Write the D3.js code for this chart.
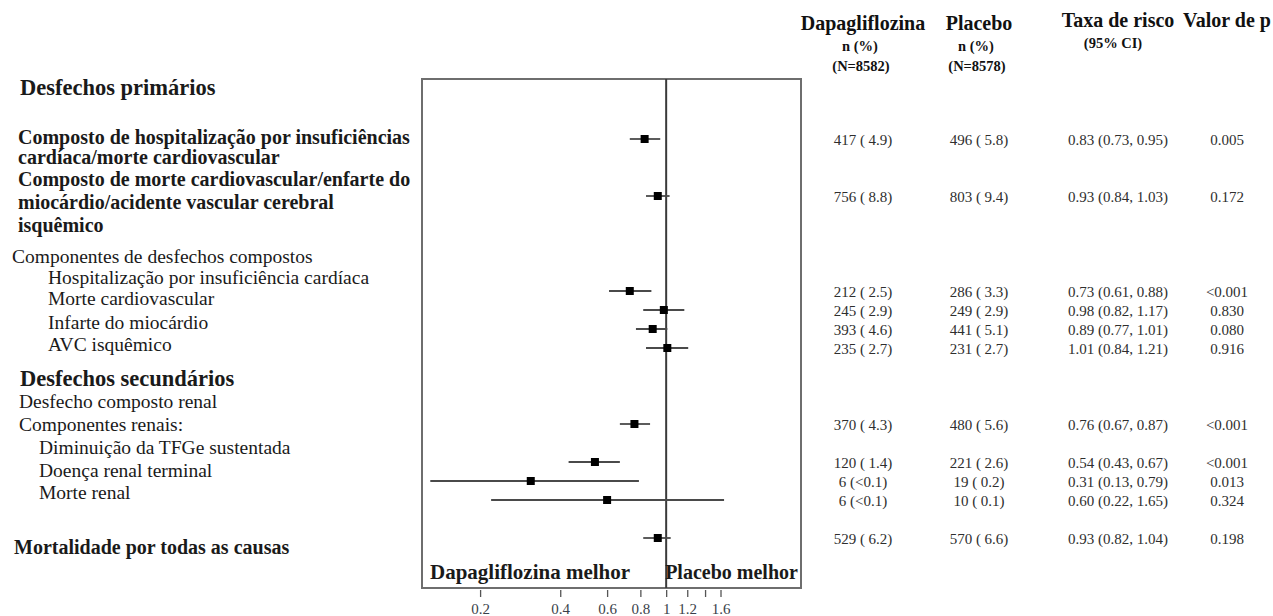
<!DOCTYPE html>
<html>
<head>
<meta charset="utf-8">
<script src="https://cdn.jsdelivr.net/npm/d3@7"></script>
<style>
  html, body { margin: 0; padding: 0; background: #fff; }
  svg { display: block; font-family: "Liberation Serif", "Times New Roman", serif; }
</style>
</head>
<body>
<svg id="chart" width="1273" height="616"></svg>
<script>
// ---- Data ----------------------------------------------------------------
const outcomes = [
  "IC hospitalização / morte CV", "MACE", "Hospitalização IC", "Morte CV",
  "Infarte do miocárdio", "AVC isquêmico", "Desfecho renal", "TFGe sustentada",
  "Doença renal terminal", "Morte renal", "Mortalidade total"
];
// table row (line) each outcome occupies
const tableRow = [0, 3, 8, 9, 10, 11, 15, 17, 18, 19, 21];
const hazardRatio = [0.83, 0.93, 0.73, 0.98, 0.89, 1.01, 0.76, 0.54, 0.31, 0.60, 0.93];
const ciLower     = [0.73, 0.84, 0.61, 0.82, 0.77, 0.84, 0.67, 0.43, 0.13, 0.22, 0.82];
const ciUpper     = [0.95, 1.03, 0.88, 1.17, 1.01, 1.21, 0.87, 0.67, 0.79, 1.65, 1.04];
const dapaEvents    = [417, 756, 212, 245, 393, 235, 370, 120, 6, 6, 529];
const dapaPct       = ["4.9", "8.8", "2.5", "2.9", "4.6", "2.7", "4.3", "1.4", "<0.1", "<0.1", "6.2"];
const placeboEvents = [496, 803, 286, 249, 441, 231, 480, 221, 19, 10, 570];
const placeboPct    = ["5.8", "9.4", "3.3", "2.9", "5.1", "2.7", "5.6", "2.6", "0.2", "0.1", "6.6"];
const pValues = ["0.005", "0.172", "<0.001", "0.830", "0.080", "0.916", "<0.001", "<0.001", "0.013", "0.324", "0.198"];

const tickValues = [0.2, 0.4, 0.6, 0.8, 1, 1.2, 1.4, 1.6];
const tickLabels = ["0.2", "0.4", "0.6", "0.8", "1", "1.2", "", "1.6"];
const axisLimits = [0.121, 3.21];

const labelLines = [
  "Desfechos primários",
  "Composto de hospitalização por insuficiências",
  "cardíaca/morte cardiovascular",
  "Composto de morte cardiovascular/enfarte do",
  "miocárdio/acidente vascular cerebral",
  "isquêmico",
  "Componentes de desfechos compostos",
  "Hospitalização por insuficiência cardíaca",
  "Morte cardiovascular",
  "Infarte do miocárdio",
  "AVC isquêmico",
  "Desfechos secundários",
  "Desfecho composto renal",
  "Componentes renais:",
  "Diminuição da TFGe sustentada",
  "Doença renal terminal",
  "Morte renal",
  "Mortalidade por todas as causas"
];

const headerTitles = ["Dapagliflozina", "Placebo", "Taxa de risco", "Valor de p"];
const headerSub1 = ["n (%)", "n (%)", "(95% CI)", ""];
const headerSub2 = ["(N=8582)", "(N=8578)", "", ""];
const favourLabels = ["Dapagliflozina melhor", "Placebo melhor"];

// ---- Layout --------------------------------------------------------------
// left label column: [x, baseline, style]
const labelLayout = [
  [20, 95, "section"],
  [18, 144, "bold"], [18, 164, "bold"],
  [18, 186, "bold"], [18, 209, "bold"], [18, 232, "bold"],
  [12, 263, "plain"],
  [48, 284, "plain"], [48, 305, "plain"], [48, 329, "plain"], [48, 351, "plain"],
  [20, 386, "section"],
  [19, 408, "plain"], [19, 431, "plain"],
  [39, 454, "plain"], [39, 477, "plain"], [39, 499, "plain"],
  [14, 554, "bold"]
];
const labelFont = {
  section: { size: 22.5, weight: "bold" },
  bold:    { size: 20,   weight: "bold" },
  plain:   { size: 19.5, weight: "normal" }
};

const plotLeft = 422, plotRight = 801, plotTop = 79, plotBottom = 588;
const colCenters = [863, 979, 1118, 1227];

const svg = d3.select("#chart");

const x = d3.scaleLog().domain(axisLimits).range([plotLeft, plotRight]);
const y = d3.scaleLinear().domain([0, 21]).range([139, 538]);

// ---- Left labels ---------------------------------------------------------
svg.append("g").selectAll("text")
  .data(labelLines)
  .join("text")
  .attr("x", (d, i) => labelLayout[i][0])
  .attr("y", (d, i) => labelLayout[i][1])
  .attr("font-size", (d, i) => labelFont[labelLayout[i][2]].size)
  .attr("font-weight", (d, i) => labelFont[labelLayout[i][2]].weight)
  .attr("fill", "#1a1a1a")
  .text(d => d);

// ---- Plot frame ----------------------------------------------------------
svg.append("rect")
  .attr("x", plotLeft).attr("y", plotTop)
  .attr("width", plotRight - plotLeft).attr("height", plotBottom - plotTop)
  .attr("fill", "none").attr("stroke", "#6e6e6e").attr("stroke-width", 2);

svg.append("line")
  .attr("x1", x(1)).attr("x2", x(1))
  .attr("y1", plotTop).attr("y2", plotBottom)
  .attr("stroke", "#3a3a3a").attr("stroke-width", 2);

// ---- Confidence intervals & point estimates ------------------------------
const rows = outcomes.map((name, i) => ({
  name, row: tableRow[i], hr: hazardRatio[i], lo: ciLower[i], hi: ciUpper[i]
}));

const marks = svg.append("g");
marks.selectAll("line.ci")
  .data(rows)
  .join("line")
  .attr("class", "ci")
  .attr("x1", d => x(d.lo)).attr("x2", d => x(d.hi))
  .attr("y1", d => y(d.row)).attr("y2", d => y(d.row))
  .attr("stroke", "#4a4a4a").attr("stroke-width", 1.8);

const sq = 8;
marks.selectAll("rect.est")
  .data(rows)
  .join("rect")
  .attr("class", "est")
  .attr("x", d => x(d.hr) - sq / 2).attr("y", d => y(d.row) - sq / 2)
  .attr("width", sq).attr("height", sq)
  .attr("fill", "#000");

// ---- Favour labels -------------------------------------------------------
svg.append("text")
  .attr("x", plotLeft + 8).attr("y", 579)
  .attr("font-size", 21).attr("font-weight", "bold").attr("fill", "#1a1a1a")
  .text(favourLabels[0]);
svg.append("text")
  .attr("x", x(1) - 1).attr("y", 579)
  .attr("font-size", 20).attr("font-weight", "bold").attr("fill", "#1a1a1a")
  .text(favourLabels[1]);

// ---- X axis --------------------------------------------------------------
const axis = d3.axisBottom(x)
  .tickValues(tickValues)
  .tickFormat((d, i) => tickLabels[i])
  .tickSize(7)
  .tickPadding(6);

const gAxis = svg.append("g")
  .attr("transform", `translate(0,${plotBottom + 2})`)
  .call(axis);
gAxis.select(".domain").remove();
gAxis.selectAll(".tick line").attr("stroke", "#555").attr("stroke-width", 1.3);
gAxis.selectAll(".tick text")
  .attr("font-family", "Liberation Serif, serif")
  .attr("font-size", 15).attr("fill", "#3a3f4a");

// ---- Table header --------------------------------------------------------
const header = svg.append("g").attr("text-anchor", "middle").attr("fill", "#111");
header.selectAll("text.title")
  .data(headerTitles)
  .join("text")
  .attr("class", "title")
  .attr("x", (d, i) => colCenters[i])
  .attr("y", (d, i) => i < 2 ? 30 : 27)
  .attr("font-size", 20).attr("font-weight", "bold")
  .text(d => d);
header.selectAll("text.sub1")
  .data(headerSub1)
  .join("text")
  .attr("class", "sub1")
  .attr("x", (d, i) => colCenters[i] - (i < 2 ? 3 : 5))
  .attr("y", (d, i) => i < 2 ? 51 : 48)
  .attr("font-size", 14.5).attr("font-weight", "bold")
  .text(d => d);
header.selectAll("text.sub2")
  .data(headerSub2)
  .join("text")
  .attr("class", "sub2")
  .attr("x", (d, i) => colCenters[i] - 2)
  .attr("y", 71)
  .attr("font-size", 14.5).attr("font-weight", "bold")
  .text(d => d);

// ---- Table body ----------------------------------------------------------
const nPct = (n, p) => p.startsWith("<") ? `${n} (${p})` : `${n} ( ${p})`;
const hrText = i => `${hazardRatio[i].toFixed(2)} (${ciLower[i].toFixed(2)}, ${ciUpper[i].toFixed(2)})`;

const columns = [
  i => nPct(dapaEvents[i], dapaPct[i]),
  i => nPct(placeboEvents[i], placeboPct[i]),
  i => hrText(i),
  i => pValues[i]
];

const body = svg.append("g")
  .attr("text-anchor", "middle")
  .attr("font-size", 15)
  .attr("fill", "#2e2e2e");

columns.forEach((fmt, c) => {
  body.append("g").selectAll("text")
    .data(rows)
    .join("text")
    .attr("x", colCenters[c])
    .attr("y", d => y(d.row) + 6)
    .text((d, i) => fmt(i));
});
</script>
</body>
</html>
